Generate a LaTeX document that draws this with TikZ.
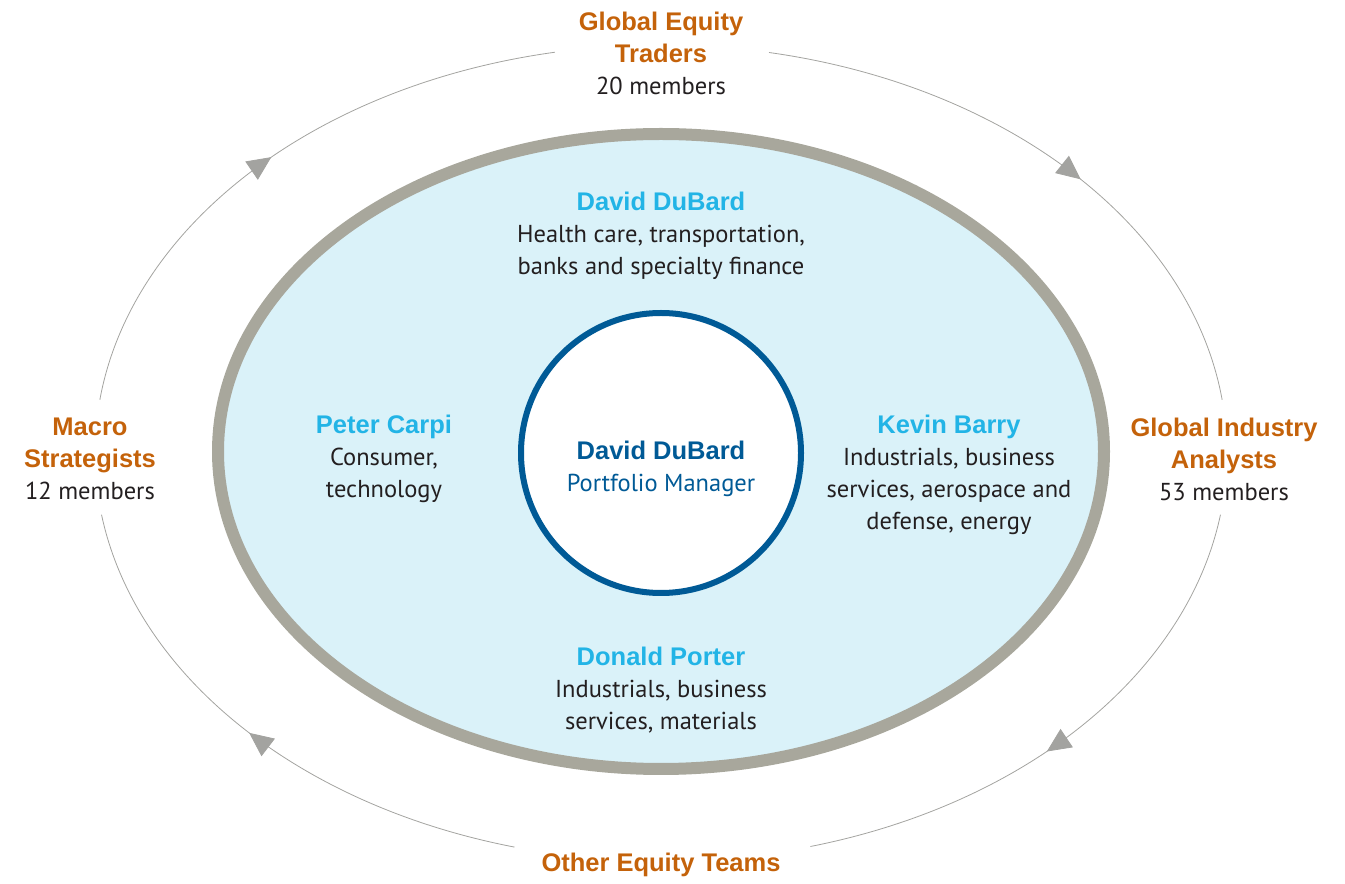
\documentclass[tikz,border=0pt]{standalone}
\usepackage{fontspec}
\setmainfont{PT Sans}
\newfontfamily\headfont{Liberation Sans}
\usepackage{tikz}
\usetikzlibrary{arrows.meta,decorations.markings}
\definecolor{teamorange}{HTML}{C4620A}
\definecolor{namecyan}{HTML}{22B4E6}
\definecolor{pmblue}{HTML}{005A96}
\definecolor{ringgray}{HTML}{A8A79C}
\definecolor{linegray}{HTML}{A3A3A0}
\definecolor{palebg}{HTML}{DAF2F9}
\definecolor{bodytext}{HTML}{231F20}
\newcommand{\hd}[2]{{\fontsize{25.5}{32}\selectfont\headfont\bfseries\color{#1}#2}}

\begin{document}
\begin{tikzpicture}[x=1pt,y=1pt,font=\fontsize{24.5}{32}\selectfont,
  team/.style={align=center,text=bodytext},
  member/.style={align=center,text=bodytext},
  flow/.style={color=linegray,line width=0.8pt,postaction={decorate},
    decoration={markings,mark=at position #1 with {\arrow{Triangle[length=24pt,width=22pt]}}}}]
  \useasboundingbox (0,0) rectangle (1345,884);
  \coordinate (ctr) at (661,431);
  % outer ring of teams
  \foreach \s/\e/\m [count=\i] in {172.5/100.8/0.5,79/7.5/0.56,-8.7/-74.7/0.54,-105/-171.3/0.52} {
    \path (ctr) ++(\s:566 and 408) coordinate (p\i);
    \draw[flow=\m] (p\i) arc[start angle=\s,end angle=\e,x radius=566,y radius=408];
  }
  \node[team] (traders) at (661,831) {\hd{teamorange}{Global Equity}\\ \hd{teamorange}{Traders}\\ 20 members};
  \node[team] (macro) at (90,425) {\hd{teamorange}{Macro}\\ \hd{teamorange}{Strategists}\\ 12 members};
  \node[team] (analysts) at (1224,425) {\hd{teamorange}{Global Industry}\\ \hd{teamorange}{Analysts}\\ 53 members};
  \node[team] (others) at (661,19) {\hd{teamorange}{Other Equity Teams}};
  % the team ellipse
  \draw[line width=12pt,draw=ringgray,fill=palebg] (661,432.5) ellipse[x radius=443,y radius=317.5];
  \draw[line width=6pt,draw=pmblue,fill=white] (ctr) circle[radius=140];
  \node[member] (pm) at (661,415) {\hd{pmblue}{David DuBard}\\ {\color{pmblue}Portfolio Manager}};
  \node[member] (dubard) at (661,648) {\hd{namecyan}{David DuBard}\\ Health care, transportation,\\ banks and specialty finance};
  \node[member] (carpi) at (384,425) {\hd{namecyan}{Peter Carpi}\\ Consumer,\\ technology};
  \node[member] (barry) at (949,409.5) {\hd{namecyan}{Kevin Barry}\\ Industrials, business\\ services, aerospace and\\ defense, energy};
  \node[member] (porter) at (661,194) {\hd{namecyan}{Donald Porter}\\ Industrials, business\\ services, materials};
\end{tikzpicture}
\end{document}
